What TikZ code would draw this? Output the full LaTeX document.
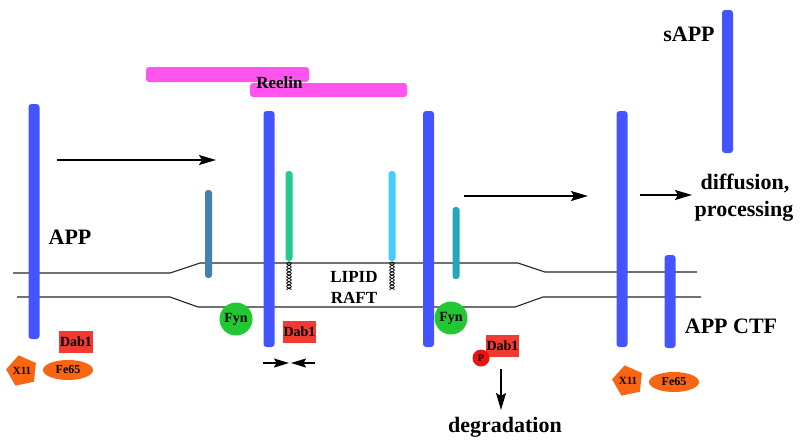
\documentclass[tikz,border=0pt]{standalone}
\usepackage{fontspec}
\setmainfont{Liberation Serif}
\usetikzlibrary{arrows.meta,shapes.geometric}
\definecolor{appblue}{RGB}{68,85,255}
\definecolor{reelinmag}{RGB}{255,85,238}
\definecolor{fyngreen}{RGB}{34,200,51}
\definecolor{dabred}{RGB}{240,58,50}
\definecolor{pred}{RGB}{238,17,17}
\definecolor{xorange}{RGB}{248,102,20}
\definecolor{steelbar}{RGB}{70,128,176}
\definecolor{greenbar}{RGB}{34,200,150}
\definecolor{cyanbar}{RGB}{68,204,255}
\definecolor{tealbar}{RGB}{34,168,186}
\tikzset{
  lbl/.style={font=\bfseries, inner sep=0pt},
  bigtxt/.style={lbl, font=\fontsize{22}{24}\selectfont\bfseries},
  midtxt/.style={lbl, font=\fontsize{17}{19}\selectfont\bfseries},
  membrane/.style={draw=black!85, line width=1.1pt},
  arr/.style={line width=1.6pt, -{Stealth[length=17pt,width=10pt,inset=3pt]}},
  smallarr/.style={line width=1.4pt, -{Stealth[length=15pt,width=9pt,inset=2.5pt]}},
  fyn/.style={circle, fill=fyngreen, minimum size=33pt, inner sep=0pt, font=\fontsize{14}{16}\selectfont\bfseries},
  dab/.style={fill=dabred, inner sep=1pt, minimum height=22pt, font=\fontsize{14}{16}\selectfont\bfseries},
  fe/.style={ellipse, fill=xorange, minimum width=50pt, minimum height=20pt, inner sep=0pt, font=\fontsize{12}{14}\selectfont\bfseries},
  xel/.style={regular polygon, regular polygon sides=5, fill=xorange, minimum size=27pt, inner sep=0pt, font=\fontsize{11}{13}\selectfont\bfseries},
  reelin/.style={fill=reelinmag, rounded corners=3pt},
  anchorline/.style={black, line width=0.8pt}
}
\newcommand{\appbar}[4]{\fill[#4, rounded corners=3pt] (#1-5.5,#2) rectangle (#1+5.5,#3);}
\newcommand{\smbar}[4]{\fill[#4, rounded corners=3pt] (#1-3.5,#2) rectangle (#1+3.5,#3);}
\newcommand{\lipanchor}[1]{%
  \draw[anchorline] plot[domain=0:28, samples=80, smooth] ({#1+2.3*sin(\x*55)}, {262+\x});
  \draw[anchorline] plot[domain=0:28, samples=80, smooth] ({#1-2.3*sin(\x*55)}, {262+\x});}
\begin{document}
\begin{tikzpicture}[x=1pt,y=-1pt]
\useasboundingbox (0,0) rectangle (800,445);
\fill[white] (0,0) rectangle (800,445);

% membrane
\draw[membrane] (13,273) -- (170,273) -- (200,263) -- (518,263) -- (545,272) -- (697,272);
\draw[membrane] (17,297) -- (170,297) -- (198,307) -- (515,307) -- (543,297) -- (701,297);

% Reelin
\fill[reelin] (146,67) rectangle (309,82);
\fill[reelin] (250,83) rectangle (407,97);
\node[midtxt] (reelin) at (279.5,83) {Reelin};

% small receptor bars
\smbar{208.5}{190}{278}{steelbar}
\smbar{289}{171}{261}{greenbar}
\smbar{392}{171}{261}{cyanbar}
\smbar{456}{207}{279}{tealbar}
\lipanchor{289}
\lipanchor{392}

% APP bars
\appbar{34}{104}{339}{appblue}
\appbar{269}{111}{347}{appblue}
\appbar{428.5}{111}{347}{appblue}
\appbar{622}{111}{347}{appblue}
\appbar{670}{255}{348}{appblue}
\appbar{727.5}{10}{153}{appblue}

% labels
\node[bigtxt] (app) at (70,237) {APP};
\node[bigtxt] (sapp) at (689,34) {sAPP};
\node[bigtxt] (diff) at (745,183) {diffusion,};
\node[bigtxt] (proc) at (744,211) {processing};
\node[bigtxt] (ctf) at (731,326) {APP CTF};
\node[bigtxt] (degr) at (505,427) {degradation};
\node[midtxt] (lipid) at (354,277) {LIPID};
\node[midtxt] (raft) at (354,298) {RAFT};

% Fyn
\node[fyn] (fyn1) at (236,319) {Fyn};
\node[fyn] (fyn2) at (451,318) {Fyn};

% Dab1
\node[dab] (dab1) at (76,341.5) {Dab1};
\node[dab] (dab2) at (299.5,332) {Dab1};
\node[dab] (dab3) at (502.5,346) {Dab1};
\node[circle, fill=pred, minimum size=17pt, inner sep=0pt, font=\fontsize{10}{11}\selectfont\bfseries] (p) at (481,358) {P};

% X11 / Fe65
\node[xel, shape border rotate=12] (x11a) at (22,371) {X11};
\node[fe] (fe65a) at (68,370) {Fe65};
\node[xel, shape border rotate=12] (x11b) at (628,381) {X11};
\node[fe] (fe65b) at (674,382) {Fe65};

% arrows
\coordinate (a1s) at (57,160);
\coordinate (a1e) at (216,160);
\coordinate (a2s) at (464,196);
\coordinate (a2e) at (588,196);
\coordinate (a3s) at (640,195);
\coordinate (a3e) at (692,195);
\coordinate (dgs) at (501,369);
\coordinate (dge) at (501,410);
\coordinate (ls) at (263,363);
\coordinate (le) at (289,363);
\coordinate (rs) at (315,363);
\coordinate (re) at (291,363);
\draw[arr] (a1s) -- (a1e);
\draw[arr] (a2s) -- (a2e);
\draw[arr] (a3s) -- (a3e);
\draw[arr] (dgs) -- (dge);
\draw[smallarr] (ls) -- (le);
\draw[smallarr] (rs) -- (re);
\end{tikzpicture}
\end{document}
